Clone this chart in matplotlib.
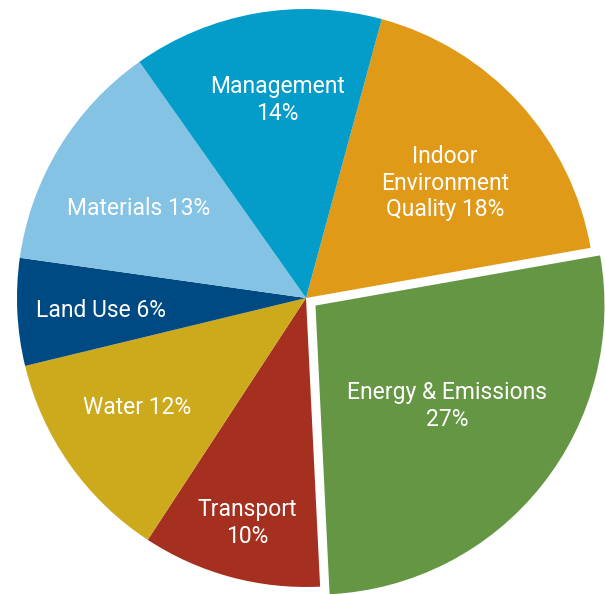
import numpy as np
import matplotlib
matplotlib.use("Agg")
import matplotlib.pyplot as plt

categories = ["Indoor Environment Quality", "Energy & Emissions", "Transport", "Water",
              "Land Use", "Materials", "Management"]
values = [18, 27, 10, 12, 6, 13, 14]
label_texts = ["Indoor\nEnvironment\nQuality 18%", "Energy & Emissions\n27%", "Transport\n10%",
               "Water 12%", "Land Use 6%", "Materials 13%", "Management\n14%"]
colors = ["#e09a18", "#659644", "#a5301f", "#cdaa1c", "#004a84", "#84c3e4", "#049cc8"]
explode_frac = [0, 0.042, 0, 0, 0, 0, 0]
label_frac = [0.624, 0.573, 0.805, 0.696, 0.709, 0.656, 0.692]
label_dang = [-2.8, 1.2, 0.5, -2.1, 0.6, 3.4, -1.7]

W, H = 605, 594
fig = plt.figure(figsize=(W / 100, H / 100), dpi=100)
ax = fig.add_axes([0, 0, 1, 1])

cx, cy, R = 306, H - 298, 289
wedges, _ = ax.pie(values, colors=colors, explode=[e * R for e in explode_frac],
                   startangle=74.8, counterclock=False, center=(cx, cy), radius=R,
                   wedgeprops=dict(linewidth=0), frame=True)
ax.set_xlim(0, W)
ax.set_ylim(0, H)
ax.set_aspect("equal")
ax.axis("off")

for w, txt, f, da in zip(wedges, label_texts, label_frac, label_dang):
    mid = np.deg2rad((w.theta1 + w.theta2) / 2 + da)
    x0, y0 = w.center
    x = x0 + f * R * np.cos(mid)
    y = y0 + f * R * np.sin(mid)
    ax.text(x, y, txt, color="white", ha="center", va="center", fontsize=16.5,
            family=["Roboto", "DejaVu Sans"], fontweight="normal", linespacing=1.2)

fig.savefig("out.png", dpi=100)
